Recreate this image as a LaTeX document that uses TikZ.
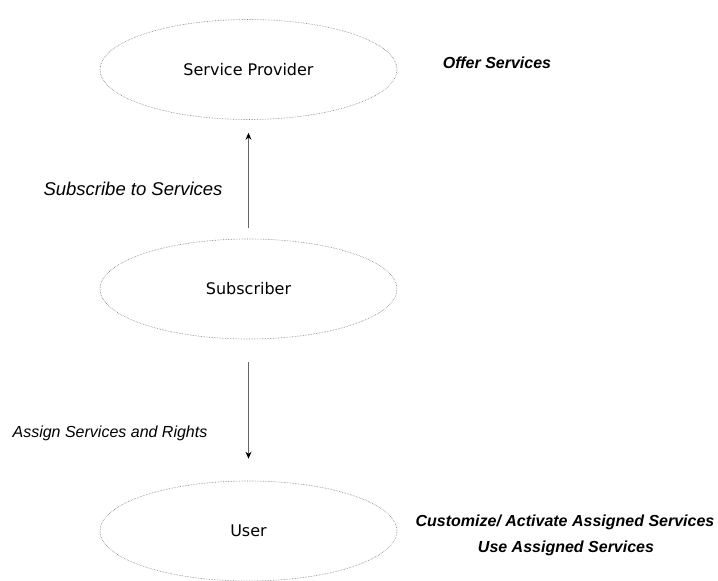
\documentclass[tikz,border=0pt]{standalone}
\usepackage{fontspec}
\setmainfont{DejaVu Sans}
\newfontfamily\labelfont{Liberation Sans}
\usepackage{tikz}
\usetikzlibrary{shapes.geometric,arrows.meta,positioning}

\begin{document}
\begin{tikzpicture}[x=1pt,y=-1pt,
    role/.style={ellipse,draw=black!50,densely dotted,line width=0.6pt,
        minimum width=297pt,minimum height=100pt,inner sep=0pt,
        font=\fontsize{16}{19}\selectfont},
    flow/.style={draw=black!60,line width=0.8pt,
        -{Stealth[length=7pt,width=6pt,black]}},
    note/.style={font=\labelfont\itshape\fontsize{16}{19}\selectfont},
    duty/.style={font=\labelfont\bfseries\itshape\fontsize{16}{19}\selectfont}]
            \useasboundingbox (0,0) rectangle (718,581); %固定画布大小
            %三个角色的椭圆
            \node[role] (provider) at (248.5,69.5) {Service Provider};
            \node[role] (subscriber) at (248.5,289) {Subscriber};
            \node[role] (user) at (248.5,531) {User};
            %角色之间的箭头
            \draw[flow,shorten <=11pt,shorten >=13pt] (subscriber.north) -- (provider.south);
            \draw[flow,shorten <=23pt,shorten >=22pt] (subscriber.south) -- (user.north);
            %箭头旁的说明
            \node[note,font=\labelfont\itshape\fontsize{18.5}{22}\selectfont] (subscribe) at (133,189) {Subscribe to Services};
            \node[note] (assign) at (110,433) {Assign Services and Rights};
            %右侧的职责
            \node[duty] (offer) at (497,63) {Offer Services};
            \node[duty] (customize) at (565,522) {Customize/ Activate Assigned Services};
            \node[duty] (use) at (566,548) {Use Assigned Services};
\end{tikzpicture}
\end{document}
